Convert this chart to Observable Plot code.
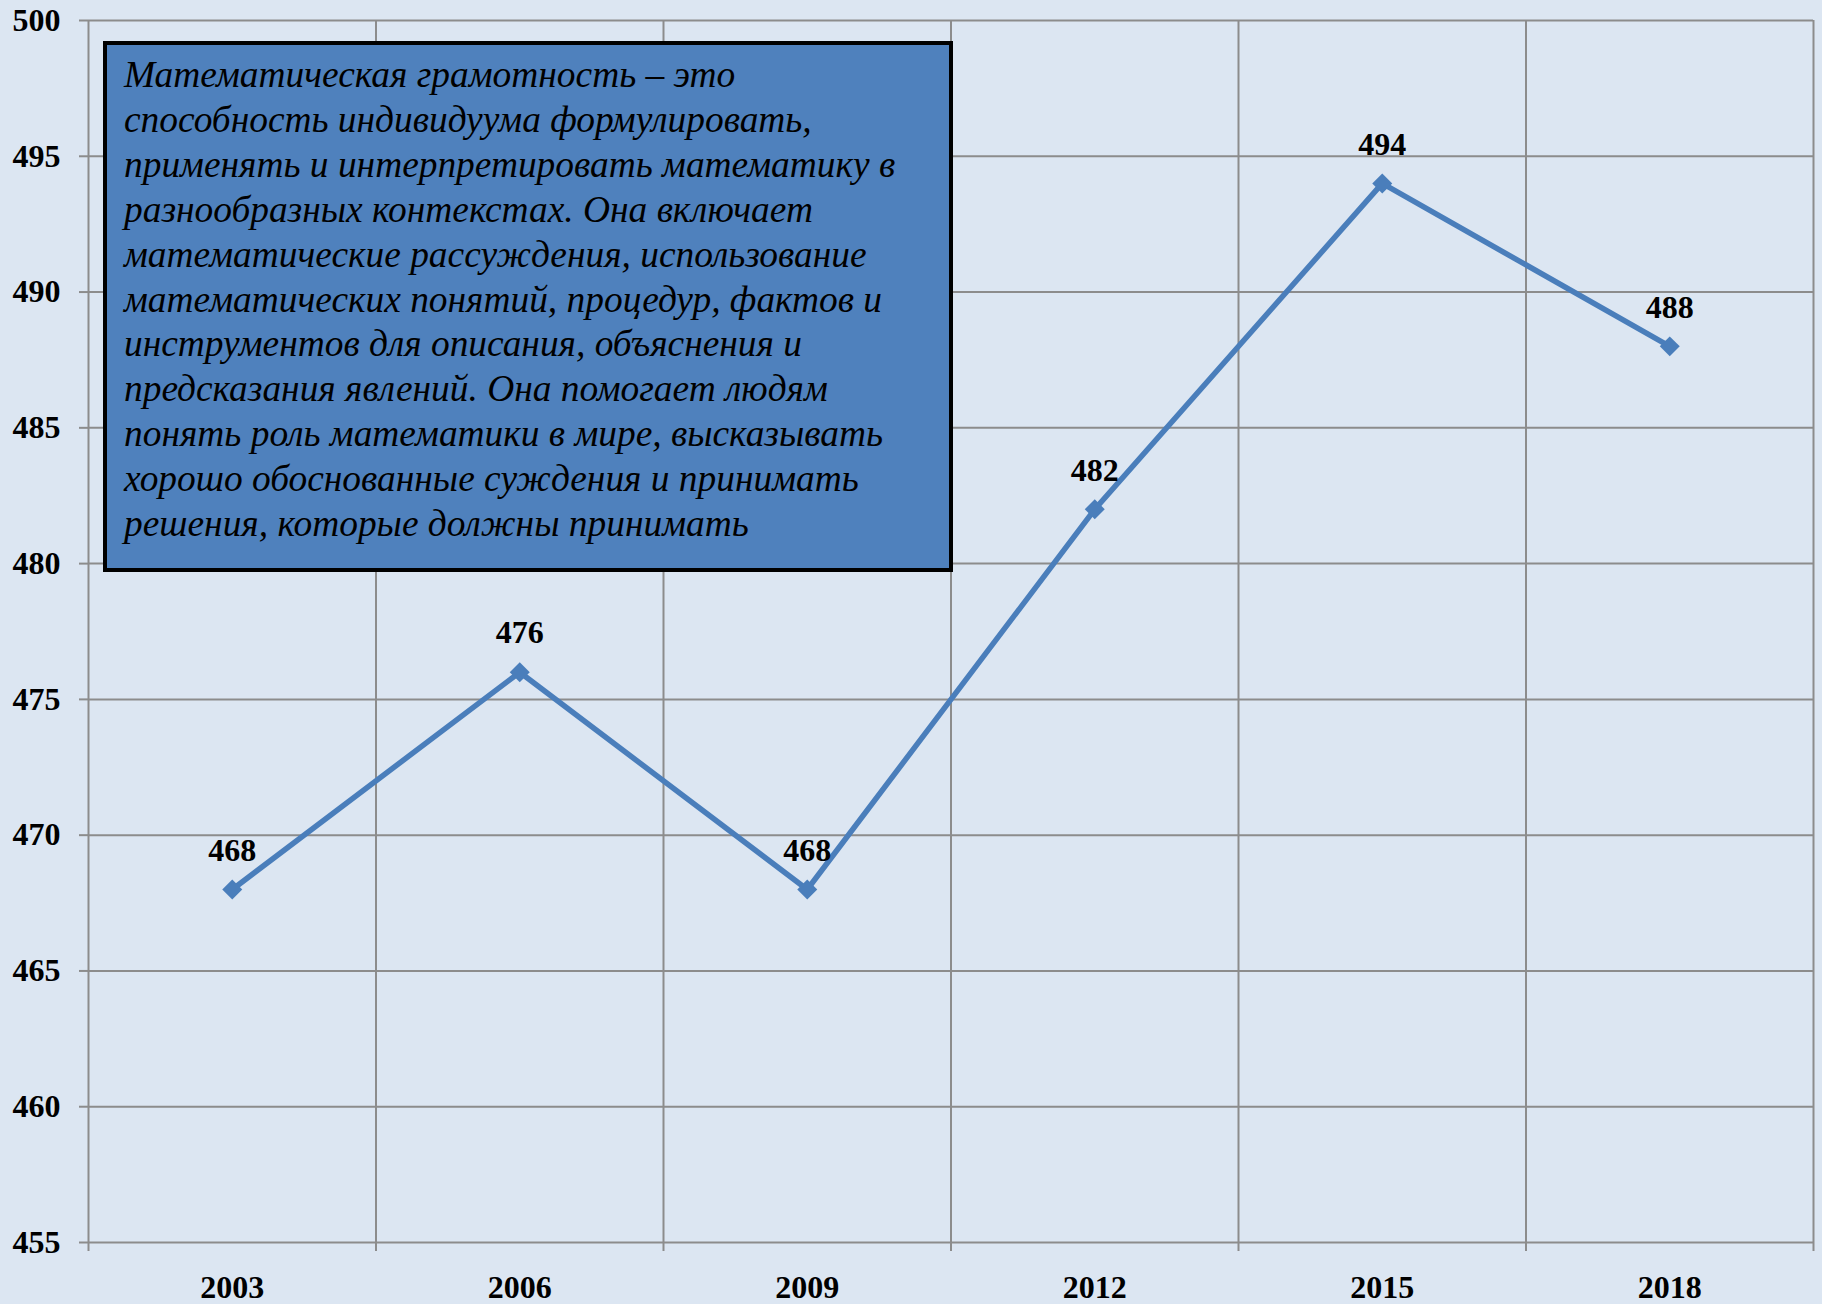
<!DOCTYPE html>
<html><head><meta charset="utf-8">
<script src="https://cdn.jsdelivr.net/npm/d3@7"></script>
<script src="https://cdn.jsdelivr.net/npm/@observablehq/plot@0.6"></script>
<style>
body{margin:0;background:#DCE6F2;}
#wrap{position:relative;width:1822px;height:1304px;background:#DCE6F2;overflow:hidden;}
#note{position:absolute;left:103px;top:41px;width:850px;height:531px;box-sizing:border-box;border:4px solid #000;background:#4F81BD;font-family:"Liberation Serif","Times New Roman",serif;font-style:italic;font-size:37.4px;line-height:44.9px;padding:8px 0 0 17px;color:#000;white-space:nowrap;}
</style>
</head><body>
<div id="wrap"><div id="chart"></div><div id="note"></div></div>
<script>
const years = ["2003","2006","2009","2012","2015","2018"];
const scores = [468, 476, 468, 482, 494, 488];
const yTicks = [455, 460, 465, 470, 475, 480, 485, 490, 495, 500];
const noteLines = [
  "Математическая грамотность – это",
  "способность индивидуума формулировать,",
  "применять и интерпретировать математику в",
  "разнообразных контекстах. Она включает",
  "математические рассуждения, использование",
  "математических понятий, процедур, фактов и",
  "инструментов для описания, объяснения и",
  "предсказания явлений. Она помогает людям",
  "понять роль математики в мире, высказывать",
  "хорошо обоснованные суждения и принимать",
  "решения, которые должны принимать"
];

const data = years.map((y, i) => ({i, year: y, score: scores[i]}));
const bounds = d3.range(years.length + 1).map(k => k - 0.5);
const grid = "#8C8C8C";
const font = "Liberation Serif";

const chart = Plot.plot({
  width: 1822, height: 1304,
  marginLeft: 88, marginRight: 9, marginTop: 20, marginBottom: 62,
  style: {background: "transparent", fontFamily: font, fontWeight: "bold", fontSize: "32px", color: "#000"},
  x: {domain: [-0.5, years.length - 0.5]},
  y: {domain: [yTicks[0], yTicks[yTicks.length - 1]]},
  marks: [
    Plot.ruleY(yTicks, {x1: -0.5, x2: years.length - 0.5, stroke: grid, strokeWidth: 2}),
    Plot.ruleX(bounds, {y1: yTicks[0], y2: yTicks[yTicks.length - 1], stroke: grid, strokeWidth: 2}),
    Plot.axisY({ticks: yTicks, tickSize: 9, tickPadding: 19, stroke: grid, strokeWidth: 2, fill: "#000", fontSize: 32, fontWeight: "bold", label: null}),
    Plot.axisX({ticks: bounds, tickSize: 9, stroke: grid, strokeWidth: 2, tickFormat: () => "", label: null}),
    Plot.axisX({ticks: d3.range(years.length), tickSize: 0, tickPadding: 33, tickFormat: i => years[i], fill: "#000", fontSize: 32, fontWeight: "bold", label: null}),
    Plot.line(data, {x: "i", y: "score", stroke: "#4A7EBB", strokeWidth: 5.5}),
    Plot.dot(data, {x: "i", y: "score", symbol: "diamond2", r: 9, fill: "#4A7EBB", stroke: "none"}),
    Plot.text(data, {x: "i", y: "score", text: d => String(d.score), dy: -39, fontSize: 32, fontWeight: "bold", fill: "#000"})
  ]
});
document.getElementById("chart").appendChild(chart);
document.getElementById("note").innerHTML = noteLines.join("<br>");
</script>
</body></html>
